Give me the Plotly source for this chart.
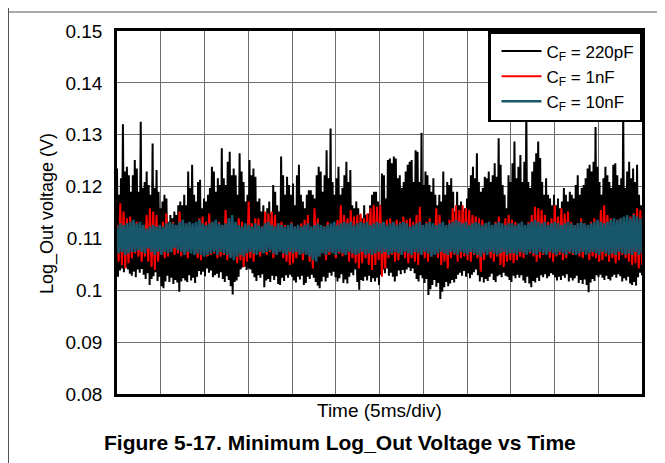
import numpy as np
import plotly.graph_objects as go

# ---------------- data ----------------
time_range_ms = [0, 60]                      # 12 divisions of 5 ms
x_grid_ms = [0, 5, 10, 15, 20, 25, 30, 35, 40, 45, 50, 55, 60]
y_ticks = [0.08, 0.09, 0.10, 0.11, 0.12, 0.13, 0.14, 0.15]
y_tick_labels = ["0.08", "0.09", "0.1", "0.11", "0.12", "0.13", "0.14", "0.15"]
series_names = ["C<sub>F</sub> = 220pF", "C<sub>F</sub> = 1nF", "C<sub>F</sub> = 10nF"]

# Log_Out samples in mV, in time order (successive peak / trough readings)
cf_220pF_mv = [
    123.5, 102.6, 118.4, 103.8, 121.6, 104.2, 132.0, 103.5, 122.9, 104.4, 123.8, 104.0, 122.2, 103.2, 119.0, 102.8,
    122.2, 103.6, 125.1, 102.5, 123.5, 104.0, 119.0, 103.4, 132.5, 104.1, 119.7, 103.0, 120.9, 102.2, 122.9, 103.3,
    120.3, 101.0, 118.4, 102.2, 128.3, 102.7, 119.7, 103.5, 123.2, 101.8, 119.0, 102.6, 115.8, 100.8, 117.1, 100.4,
    118.4, 101.7, 117.7, 102.8, 113.2, 101.6, 114.5, 102.4, 113.9, 101.2, 115.2, 102.0, 114.5, 101.5, 116.4, 99.7,
    117.1, 101.7, 116.4, 102.3, 118.4, 101.9, 116.4, 101.6, 122.9, 102.9, 119.7, 101.9, 124.2, 102.4, 118.4, 101.4,
    117.1, 102.6, 120.9, 103.7, 121.3, 103.0, 115.8, 103.6, 117.7, 102.7, 117.1, 104.2, 118.4, 103.4, 119.7, 103.8,
    123.8, 102.5, 122.9, 102.9, 119.0, 103.2, 121.6, 102.4, 120.3, 103.5, 127.4, 102.2, 121.6, 101.6, 120.3, 102.7,
    124.8, 102.0, 126.7, 100.8, 122.2, 99.2, 123.5, 101.6, 122.2, 101.9, 118.4, 102.6, 126.4, 104.0, 122.9, 104.4,
    120.9, 104.6, 117.1, 103.9, 118.4, 104.2,
    125.1, 104.0, 122.2, 103.3, 123.5, 102.5, 121.9, 101.8, 117.1, 102.9, 117.7, 102.4, 115.2, 103.1, 116.4, 100.6,
    114.5, 101.9, 115.8, 102.2, 117.1, 101.6, 114.8, 102.8, 120.3, 102.0, 119.0, 102.7, 116.4, 101.2, 115.2, 101.0,
    125.8, 102.4, 122.2, 101.8, 118.4, 102.9, 121.9, 102.4, 120.3, 103.0, 118.4, 102.6, 120.6, 101.9, 116.4, 101.5,
    122.2, 102.6, 124.2, 102.1, 118.4, 102.8, 117.1, 101.0, 115.8, 101.4, 118.4, 102.6, 119.3, 102.2, 119.3, 103.0,
    118.4, 102.4, 117.7, 101.6, 122.2, 100.9, 123.8, 100.4, 122.9, 101.7, 119.0, 102.6, 122.2, 101.7, 127.0, 102.4,
    121.6, 103.4, 131.2, 102.8, 120.9, 103.6, 118.4, 102.5, 121.6, 101.7, 123.8, 102.3, 118.4, 103.1, 119.7, 101.4,
    122.2, 102.1, 124.8, 101.3, 120.9, 102.6, 123.2, 103.4, 116.4, 102.9, 115.8, 104.0, 117.1, 101.6, 115.8, 100.1,
    114.5, 102.0, 113.9, 101.8, 116.4, 102.6, 114.5, 101.9, 114.8, 102.8, 116.4, 101.6, 118.4, 102.3, 119.0, 101.7,
    119.0, 102.4, 117.1, 101.0, 116.4, 103.0, 122.5, 104.0, 122.2, 103.3, 117.7, 104.2, 125.1, 102.8, 125.4, 103.4,
    124.5, 102.6, 125.8, 101.7, 125.4, 102.7, 121.6, 103.8, 122.2, 103.1, 119.7, 103.9, 120.9, 103.3, 122.9, 104.0,
    124.2, 104.4, 124.8, 103.7, 125.1, 104.2, 120.9, 103.3, 127.0, 102.2, 126.7, 101.7, 120.9, 102.9, 130.4, 102.3,
    120.3, 101.4, 122.9, 102.2, 122.2, 99.1, 120.3, 100.2, 119.0, 101.0, 121.6, 102.0, 118.4, 100.7, 116.4, 101.4,
    118.4, 98.3, 117.1, 99.7, 122.9, 100.6, 118.4, 101.6, 120.9, 100.8, 120.3, 101.3, 121.6, 102.0, 119.0, 101.5,
    115.2, 102.2, 119.0, 103.0, 116.4, 103.4, 117.1, 102.8, 115.2, 103.7, 115.8, 102.6, 117.7, 103.3, 119.7, 102.3,
    122.2, 103.0, 123.8, 103.5, 121.6, 104.0, 126.4, 102.9, 120.9, 101.7, 119.0, 102.5, 119.7, 101.5, 121.9, 102.2,
    121.6, 101.8, 122.9, 102.6, 120.9, 103.2, 122.2, 102.0, 124.5, 101.6, 121.9, 102.7, 129.3, 103.0, 124.2, 102.5,
    120.3, 103.4, 118.4, 102.8, 115.8, 102.6,
    122.2, 102.0, 120.9, 101.6, 124.5, 102.8, 128.7, 102.3, 121.6, 103.0, 123.8, 102.4, 126.1, 102.9, 120.9, 101.9,
    124.8, 101.4, 135.0, 102.6, 120.9, 101.3, 119.7, 100.6, 122.9, 101.8, 124.8, 101.5, 126.4, 102.4, 128.7, 101.8,
    125.5, 102.9, 120.9, 102.5, 118.4, 103.1, 121.6, 102.3, 118.4, 102.7, 117.7, 103.3, 116.4, 103.0, 118.4, 102.5,
    116.4, 101.9, 117.7, 102.6, 115.8, 102.0, 117.1, 102.8, 119.7, 102.4, 118.4, 103.1, 117.1, 101.7, 119.0, 102.4,
    118.4, 101.9, 117.7, 102.3, 120.3, 102.8, 122.2, 101.4, 118.4, 102.0, 119.7, 101.2, 120.3, 102.1, 121.6, 101.0,
    123.5, 99.6, 124.2, 101.5, 122.9, 102.2, 124.8, 101.8, 131.5, 102.9, 123.8, 102.5, 120.9, 103.0, 118.4, 102.4,
    121.6, 102.0, 123.8, 102.8, 122.2, 102.2, 120.9, 101.9, 119.7, 102.6, 124.2, 103.0, 124.5, 102.4, 122.2, 103.1,
    120.3, 102.7, 121.6, 101.7, 134.5, 102.3, 119.7, 101.9, 122.9, 102.6, 124.8, 101.3, 121.6, 101.0, 123.5, 101.6,
    120.9, 100.9, 124.2, 102.5, 118.4, 103.4, 116.4, 102.9,
]

cf_1nF_mv = [
    112.6, 105.5, 116.8, 104.9, 115.2, 104.2, 113.9, 105.2, 114.2, 106.2, 112.3, 107.1, 113.2, 106.5, 111.9, 105.5,
    112.3, 106.5, 114.5, 105.5, 115.8, 104.5, 115.2, 103.9, 114.5, 105.5, 112.6, 106.8, 113.2, 106.2, 114.8, 106.5,
    112.3, 107.4, 113.2, 106.8, 112.3, 107.1, 115.2, 106.5, 113.6, 107.1, 112.9, 106.2, 112.6, 107.4, 112.3, 106.8,
    112.9, 106.2, 113.9, 105.8, 114.2, 107.1, 113.2, 106.5, 114.8, 106.8, 113.2, 107.1, 112.9, 106.2, 113.2, 106.5,
    112.6, 106.8, 115.5, 105.8, 113.9, 106.8, 113.2, 106.2, 112.3, 105.2, 113.9, 105.8, 113.2, 104.5, 112.3, 105.5,
    117.1, 106.2, 112.9, 105.5, 113.9, 106.8, 113.9, 106.5, 112.3, 107.4, 115.2, 106.8, 114.8, 107.4, 115.2, 106.2,
    114.5, 106.8, 112.9, 107.4, 113.2, 106.2, 112.6, 105.5, 112.3, 104.9, 113.2, 105.2, 112.3, 106.2, 112.6, 106.8,
    112.9, 105.8, 113.6, 106.8, 114.5, 105.5, 112.3, 104.2, 115.8, 106.2, 113.9, 106.8, 112.6, 107.4, 112.3, 105.8,
    113.2, 106.8, 112.3, 107.4, 112.6, 106.2, 113.6, 107.1, 116.4, 106.5, 114.5, 106.8, 113.9, 105.5, 115.5, 106.2,
    114.2, 105.2, 114.5, 104.2, 114.8, 105.2, 113.9, 106.2, 114.8, 104.9, 115.8, 103.9, 116.4, 104.9, 116.1, 105.8,
    116.4, 102.6, 113.2, 104.2, 113.6, 106.2, 113.9, 106.8, 113.2, 105.5, 113.6, 105.8, 113.2, 106.8, 114.2, 106.2,
    113.6, 105.2, 113.9, 106.2, 113.2, 105.5, 114.5, 104.9, 116.1, 106.8, 112.6, 106.2, 113.2, 105.5, 113.9, 106.5,
    112.6, 107.4, 115.8, 106.2, 114.5, 104.9, 112.9, 105.5, 112.6, 104.2, 113.6, 106.2, 115.8, 106.8, 116.4, 105.5,
    115.5, 106.2, 116.4, 106.5, 115.8, 105.8, 115.5, 105.5, 114.5, 106.8, 114.2, 106.2, 113.9, 103.6, 113.6, 105.8,
    112.9, 106.8, 113.2, 106.2, 112.6, 105.5, 113.2, 106.5, 114.2, 104.9, 112.9, 104.5, 113.9, 105.5, 114.5, 105.8,
    113.6, 105.2, 113.2, 105.8, 112.6, 106.5, 113.2, 106.2, 112.3, 106.8, 113.2, 107.1, 114.5, 106.5, 116.1, 105.5,
    115.8, 106.2, 115.5, 106.8, 114.5, 107.1, 113.2, 106.2, 113.9, 105.5, 116.4, 106.5, 114.2, 106.8, 115.8, 105.8,
    114.8, 106.2, 115.2, 107.1, 113.2, 106.8, 112.6, 107.4, 112.9, 106.5, 113.9, 106.2, 112.9, 106.8, 112.3, 105.8,
    113.2, 106.5, 113.9, 106.2, 112.9, 105.5, 115.5, 105.8, 116.4, 106.5, 114.5, 105.5, 113.9, 106.2, 112.9, 105.2,
    113.6, 105.8, 113.9, 106.8, 113.2, 106.2, 112.9, 105.5, 114.2, 104.9, 114.8, 105.2, 115.8, 104.2, 115.5, 104.9,
]

cf_10nF_mv = [
    112.3, 107.1, 112.9, 107.4, 112.6, 106.8, 112.9, 107.1, 113.2, 107.4, 113.6, 107.4, 112.9, 107.7, 113.2, 107.4,
    112.6, 107.1, 111.9, 108.1, 112.3, 107.4, 112.6, 106.8, 112.3, 107.4, 112.6, 106.8, 112.3, 107.4, 112.9, 107.1,
    113.2, 107.4, 112.9, 108.1, 112.6, 107.7, 113.2, 107.4, 113.6, 106.8, 112.9, 107.4, 113.2, 107.1, 112.9, 106.8,
    113.2, 107.1, 113.6, 106.8, 112.9, 106.5, 112.6, 106.8, 112.9, 107.1, 113.2, 107.4, 113.6, 106.8, 112.9, 107.4,
    112.6, 107.1, 112.9, 106.8, 113.9, 106.2, 114.5, 105.8, 113.2, 106.5, 112.6, 106.8, 112.3, 106.5, 112.9, 107.1,
    112.6, 107.4, 112.3, 107.1, 112.9, 106.8, 112.6, 107.4, 112.3, 107.1, 112.9, 107.4, 113.2, 107.7, 112.6, 107.1,
    112.3, 106.8, 112.9, 107.4, 112.6, 107.1, 112.3, 106.8, 112.6, 107.4, 112.9, 107.1, 112.3, 107.4, 112.6, 106.8,
    112.3, 107.1, 112.6, 106.8, 112.9, 106.5, 112.3, 105.8, 112.6, 105.5, 112.9, 106.5, 112.6, 107.1, 112.3, 106.8,
    112.6, 107.4, 112.9, 107.1, 113.2, 106.8, 112.6, 107.4, 112.9, 107.1, 113.2, 106.8, 112.9, 107.4, 113.2, 107.1,
    112.6, 106.8, 112.9, 107.1, 113.2, 107.4, 112.9, 106.8, 113.2, 107.1, 112.6, 106.8, 112.9, 107.1, 113.2, 107.4,
    112.9, 107.1, 113.2, 107.4, 112.6, 106.8, 112.9, 107.1, 113.2, 107.4, 112.6, 107.1, 112.9, 106.8, 113.2, 107.4,
    112.9, 107.1, 112.3, 106.8, 112.6, 107.4, 112.9, 107.1, 113.2, 106.8, 112.6, 107.4, 112.9, 107.1, 113.2, 106.5,
    112.9, 106.8, 112.6, 107.1, 112.9, 107.4, 113.2, 107.1, 112.6, 106.8, 112.9, 107.4, 113.2, 107.1, 113.6, 106.8,
    113.2, 107.4, 112.9, 107.1, 113.2, 106.8, 112.6, 107.4, 112.9, 107.1, 113.2, 106.8, 112.9, 106.5, 112.6, 107.1,
    112.9, 106.8, 113.2, 107.4, 112.6, 107.1, 112.9, 106.8, 113.2, 107.1, 112.9, 107.4, 112.6, 106.8, 112.9, 107.1,
    112.9, 107.1, 112.6, 106.8, 112.9, 107.4, 113.2, 107.1, 112.6, 106.8, 112.9, 107.4, 113.2, 107.1, 113.6, 106.8,
    113.2, 107.4, 112.9, 107.1, 113.2, 106.8, 112.6, 107.4, 112.9, 107.1, 113.2, 106.8, 112.9, 107.4, 112.6, 107.1,
    112.9, 106.8, 113.2, 107.4, 112.9, 107.1, 112.6, 106.8, 112.9, 107.1, 113.2, 107.4, 112.9, 106.8, 112.6, 107.1,
    112.9, 107.4, 113.2, 107.1, 113.6, 106.8, 113.2, 107.4, 112.9, 107.1, 113.2, 106.8, 113.6, 107.1, 113.9, 106.8,
    113.6, 107.4, 113.9, 107.1, 114.2, 106.8, 114.5, 107.1, 113.9, 106.8, 114.5, 107.4, 114.2, 106.8, 113.9, 107.1,
]

series_values_mv = [cf_220pF_mv, cf_1nF_mv, cf_10nF_mv]
series_colors = ["#000000", "#FF0000", "#17566B"]
series_widths = [2, 2, 2.6]

# ---------------- figure ----------------
# The page body has an 8 px margin, so the figure is 8 px smaller than the window.
FONT = "Arial, Liberation Sans, Helvetica, sans-serif"
W, H = 657, 455
L, T = 109, 23            # plot area in figure px: x 109..634, y 23..386
fig = go.Figure()
for name, vals, color, lw in zip(series_names, series_values_mv, series_colors, series_widths):
    y = np.array(vals) / 1000.0          # mV -> V
    x = np.linspace(time_range_ms[0], time_range_ms[1], len(y))
    fig.add_trace(go.Scatter(x=x, y=y, mode="lines", name=name,
                             line=dict(color=color, width=lw)))

fig.update_layout(
    width=W, height=H,
    margin=dict(l=L, r=W - 634, t=T, b=H - 386),
    paper_bgcolor="white", plot_bgcolor="white",
    font=dict(family=FONT, color="black", size=18),
    showlegend=True,
    legend=dict(x=1, y=1, xanchor="right", yanchor="top",
                bgcolor="white", bordercolor="black", borderwidth=2.5,
                font=dict(family=FONT, size=17, color="black"),
                itemwidth=40, tracegroupgap=0, indentation=6),
)
fig.update_xaxes(range=time_range_ms, tickvals=x_grid_ms, showticklabels=False,
                 showgrid=True, gridcolor="#6e6e6e", gridwidth=1,
                 showline=True, linecolor="black", linewidth=2.5, mirror=True,
                 zeroline=False, ticks="")
fig.update_yaxes(range=[y_ticks[0], y_ticks[-1]], tickvals=y_ticks, ticktext=y_tick_labels,
                 showgrid=True, gridcolor="#6e6e6e", gridwidth=1,
                 showline=True, linecolor="black", linewidth=2.5, mirror=True,
                 zeroline=False, ticks="", ticklabelstandoff=8,
                 tickfont=dict(family=FONT, size=19, color="black"))

# helpers: page-pixel position -> paper coordinate of the plot domain (page x 117..642, y 31..394)
def px_x(p):
    return (p - 117) / 525.0

def px_y(p):
    return (394 - p) / 363.0

fig.add_annotation(text="Log_Out voltage (V)", textangle=-90, xref="paper", yref="paper",
                   x=px_x(47), y=px_y(214), xanchor="center", yanchor="middle",
                   showarrow=False, font=dict(family=FONT, size=18, color="black"))
fig.add_annotation(text="Time (5ms/div)", xref="paper", yref="paper",
                   x=px_x(379), y=px_y(411), xanchor="center", yanchor="middle",
                   showarrow=False, font=dict(family=FONT, size=19, color="black"))
fig.add_annotation(text="<b>Figure 5-17. Minimum Log_Out Voltage vs Time</b>", xref="paper", yref="paper",
                   x=px_x(340), y=px_y(442), xanchor="center", yanchor="middle",
                   showarrow=False, font=dict(family=FONT, size=21, color="black"))

# page frame lines of the document page
fig.add_shape(type="line", xref="paper", yref="paper", x0=px_x(8.5), x1=px_x(665),
              y0=px_y(12), y1=px_y(12), line=dict(color="#555555", width=1))
fig.add_shape(type="line", xref="paper", yref="paper", x0=px_x(8.5), x1=px_x(8.5),
              y0=px_y(0), y1=px_y(463), line=dict(color="#555555", width=1))

fig.write_html("out.html")
